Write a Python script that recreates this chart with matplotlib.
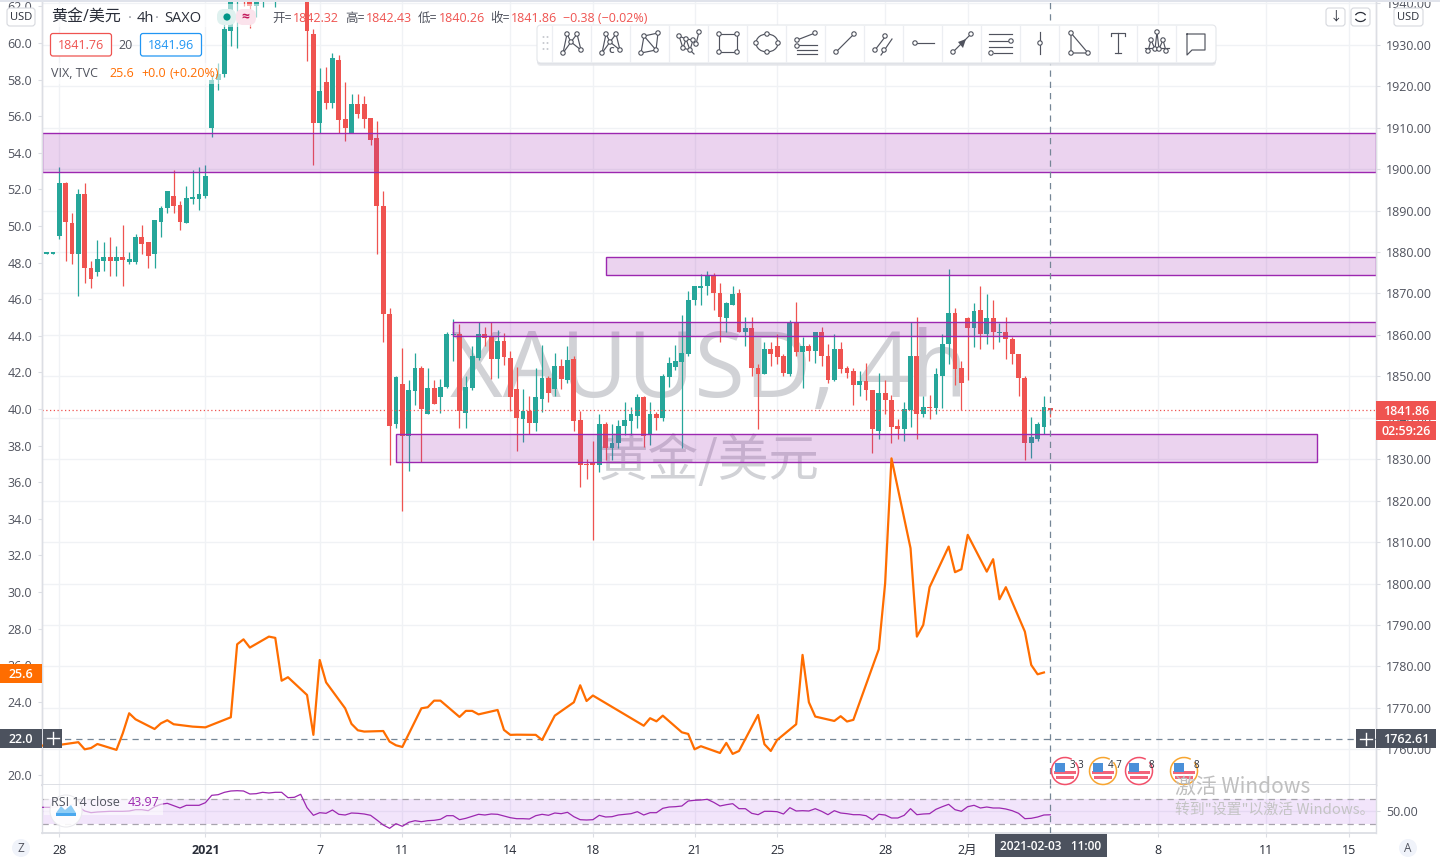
#!/usr/bin/env python3
''' XAUUSD 4h chart with VIX overlay and RSI pane, tradingview look '''
import numpy as np
import matplotlib
matplotlib.use('Agg')
import matplotlib.pyplot as plt
from matplotlib.patches import Rectangle, Circle, Ellipse, FancyBboxPatch, Polygon, Arc

plt.rcParams['font.family'] = ['Open Sans', 'Noto Sans CJK SC', 'DejaVu Sans']

# gold candles, bar numbers run from -2 to 156
opens = [1879.6, 1879.6,
    1883.8, 1896.7, 1887.1, 1879.4, 1893.9, 1876.2, 1875.1, 1877.9, 1878.9, 1877.8,
    1878.7, 1877.7, 1877.7, 1883.5, 1882.3, 1879.4, 1887.3, 1890.5, 1893.6, 1891.4,
    1887.1, 1892.9, 1892.9, 1893.6, 1910.0, 1921.6, 1923.0, 1933.4, 1945.0, 1950.0,
    1948.0, 1939.3, 1945.0, 1950.0, 1946.0, 1954.0, 1950.0, 1946.0, 1950.0, 1945.0,
    1932.5, 1911.2, 1920.9, 1916.0, 1926.4, 1912.2, 1908.8, 1915.8, 1915.8, 1912.4,
    1907.6, 1891.2, 1865.1, 1838.6, 1848.2, 1835.5, 1846.5, 1852.1, 1841.0, 1847.3,
    1844.9, 1847.5, 1860.0, 1860.1, 1841.2, 1847.3, 1854.5, 1860.1, 1859.6, 1854.3,
    1858.6, 1854.5, 1847.0, 1839.8, 1841.7, 1838.8, 1844.6, 1849.7, 1847.0, 1852.6,
    1849.2, 1854.3, 1839.5, 1828.9, 1829.2, 1828.7, 1838.6, 1832.8, 1833.8, 1837.9,
    1839.3, 1840.5, 1844.9, 1835.9, 1841.0, 1840.0, 1849.9, 1852.3, 1853.5, 1855.5,
    1868.3, 1871.4, 1871.7, 1874.1, 1870.2, 1864.0, 1867.3, 1870.0, 1860.8, 1861.6,
    1852.1, 1850.5, 1856.5, 1857.2, 1854.8, 1850.5, 1863.2, 1855.8, 1857.2, 1856.0,
    1860.8, 1854.8, 1849.2, 1856.5, 1851.9, 1851.2, 1847.8, 1848.8, 1846.8, 1836.7,
    1845.9, 1844.4, 1837.9, 1837.2, 1841.8, 1855.0, 1840.8, 1842.7, 1842.3, 1850.2,
    1857.7, 1865.4, 1851.9, 1864.0, 1861.6, 1865.9, 1860.1, 1864.0, 1860.4, 1860.8,
    1859.1, 1855.5, 1849.5, 1834.0, 1835.0, 1837.7, 1842.32]
highs = [1879.9, 1879.9,
    1900.4, 1897.0, 1889.4, 1895.3, 1896.7, 1877.9, 1883.0, 1882.3, 1883.7, 1881.5,
    1886.6, 1880.1, 1884.4, 1886.4, 1882.5, 1887.8, 1891.2, 1894.8, 1899.9, 1892.4,
    1896.0, 1899.9, 1900.4, 1900.9, 1922.6, 1925.7, 1935.3, 1945.0, 1950.0, 1952.0,
    1950.0, 1950.0, 1950.0, 1955.0, 1958.0, 1958.0, 1955.0, 1952.0, 1953.0, 1948.0,
    1933.8, 1924.5, 1924.7, 1927.9, 1927.6, 1921.1, 1918.2, 1918.2, 1917.7, 1912.4,
    1911.7, 1894.6, 1866.6, 1850.2, 1856.9, 1849.2, 1855.7, 1852.6, 1851.9, 1849.2,
    1849.4, 1860.8, 1863.9, 1862.7, 1850.2, 1857.4, 1863.0, 1862.0, 1863.0, 1861.3,
    1860.5, 1856.0, 1852.3, 1847.0, 1845.3, 1852.1, 1857.6, 1850.2, 1855.7, 1854.3,
    1857.2, 1855.0, 1841.7, 1830.1, 1834.5, 1841.0, 1839.1, 1838.6, 1839.5, 1843.9,
    1842.7, 1845.8, 1845.3, 1843.7, 1841.5, 1850.6, 1854.7, 1857.6, 1864.9, 1870.5,
    1871.9, 1874.6, 1875.3, 1875.0, 1872.6, 1868.0, 1871.7, 1871.0, 1864.4, 1864.2,
    1852.9, 1858.4, 1858.2, 1860.1, 1855.3, 1863.7, 1868.0, 1859.4, 1857.9, 1860.8,
    1862.0, 1857.7, 1860.3, 1858.2, 1852.4, 1851.9, 1851.4, 1853.3, 1846.8, 1850.9,
    1849.2, 1845.4, 1839.6, 1843.7, 1863.0, 1864.2, 1845.2, 1845.6, 1851.9, 1860.3,
    1875.8, 1866.4, 1853.8, 1864.4, 1867.6, 1871.9, 1869.8, 1868.3, 1862.8, 1864.2,
    1859.6, 1855.5, 1850.2, 1840.1, 1839.1, 1845.2, 1842.43]
lows = [1879.5, 1879.5,
    1883.1, 1877.8, 1877.0, 1869.3, 1872.6, 1871.3, 1874.2, 1875.3, 1874.3, 1874.3,
    1871.9, 1877.0, 1877.2, 1879.6, 1876.2, 1876.2, 1883.5, 1889.5, 1889.5, 1885.4,
    1887.1, 1891.7, 1890.2, 1893.1, 1907.8, 1919.0, 1922.3, 1929.8, 1929.3, 1939.3,
    1934.1, 1936.6, 1939.0, 1945.0, 1939.0, 1946.0, 1944.0, 1943.0, 1942.0, 1926.2,
    1900.9, 1908.6, 1914.6, 1914.8, 1908.8, 1906.9, 1908.8, 1912.4, 1909.8, 1905.9,
    1879.6, 1858.2, 1828.5, 1837.6, 1817.4, 1827.2, 1843.2, 1829.3, 1841.0, 1843.4,
    1841.2, 1847.3, 1853.8, 1837.6, 1837.6, 1846.8, 1854.0, 1857.2, 1849.4, 1849.7,
    1852.8, 1841.7, 1832.1, 1834.2, 1836.2, 1836.7, 1841.5, 1843.9, 1845.3, 1847.0,
    1848.5, 1836.7, 1823.4, 1825.3, 1810.4, 1826.8, 1829.9, 1829.7, 1832.8, 1835.9,
    1835.9, 1837.6, 1833.0, 1833.5, 1837.1, 1839.3, 1847.5, 1851.6, 1832.6, 1854.9,
    1867.1, 1867.1, 1869.7, 1866.1, 1858.4, 1860.8, 1867.1, 1860.6, 1857.2, 1850.2,
    1837.4, 1850.5, 1852.6, 1852.9, 1850.2, 1850.0, 1855.0, 1847.1, 1853.6, 1853.3,
    1852.6, 1848.5, 1848.8, 1850.9, 1849.5, 1843.2, 1845.2, 1844.4, 1831.6, 1834.8,
    1841.0, 1834.0, 1835.0, 1834.3, 1837.7, 1835.0, 1840.3, 1839.6, 1841.0, 1842.3,
    1852.9, 1848.0, 1841.8, 1849.2, 1857.0, 1856.5, 1857.9, 1856.7, 1858.2, 1854.3,
    1852.9, 1845.2, 1829.7, 1830.4, 1834.5, 1836.2, 1840.26]
closes = [1879.7, 1879.7,
    1896.7, 1887.2, 1879.4, 1893.9, 1876.1, 1873.6, 1878.2, 1878.9, 1877.8, 1878.7,
    1878.0, 1878.4, 1883.5, 1882.0, 1879.1, 1887.6, 1890.7, 1894.6, 1891.2, 1887.3,
    1893.1, 1893.1, 1893.9, 1898.4, 1921.6, 1923.0, 1933.7, 1942.5, 1948.0, 1946.0,
    1939.3, 1944.0, 1948.0, 1952.0, 1954.0, 1948.0, 1946.0, 1950.0, 1944.0, 1933.3,
    1911.2, 1918.9, 1916.0, 1926.7, 1911.9, 1910.0, 1915.6, 1913.4, 1912.2, 1907.1,
    1891.0, 1865.0, 1838.1, 1849.9, 1835.5, 1846.8, 1852.1, 1842.2, 1847.3, 1843.4,
    1847.5, 1860.1, 1860.1, 1841.7, 1847.5, 1855.0, 1860.1, 1859.3, 1854.3, 1858.6,
    1854.7, 1845.1, 1840.0, 1841.7, 1838.8, 1845.1, 1849.7, 1846.1, 1852.6, 1849.4,
    1854.0, 1839.3, 1828.5, 1828.5, 1828.7, 1838.6, 1832.8, 1834.0, 1837.9, 1839.5,
    1841.0, 1844.9, 1835.7, 1841.0, 1840.0, 1850.2, 1853.1, 1853.8, 1855.7, 1868.5,
    1871.7, 1871.9, 1874.3, 1870.2, 1864.2, 1867.8, 1869.8, 1860.8, 1861.6, 1851.9,
    1850.5, 1856.5, 1855.5, 1854.6, 1850.7, 1863.2, 1855.8, 1857.2, 1856.0, 1860.8,
    1855.0, 1849.2, 1856.7, 1851.7, 1850.7, 1847.8, 1848.8, 1846.6, 1837.2, 1845.9,
    1844.2, 1837.7, 1837.2, 1842.0, 1855.0, 1840.8, 1842.7, 1842.3, 1850.5, 1857.7,
    1865.2, 1851.7, 1848.3, 1861.6, 1865.7, 1860.1, 1864.0, 1860.6, 1860.8, 1858.9,
    1855.3, 1849.5, 1834.0, 1835.3, 1838.4, 1842.5, 1841.86]

# VIX line, only drawn on the bars it has a value for
vix_bars = [-3, 0, 3, 4, 5, 6, 9, 10, 11, 12, 15, 16, 17, 18, 21, 23, 27, 28, 29, 30, 33,
    34, 35, 36, 39, 40, 41, 42, 45, 46, 47, 48, 51, 52, 53, 54, 57, 58, 59, 60, 63, 64,
    65, 66, 69, 70, 71, 72, 75, 76, 78, 81, 82, 83, 84, 92, 93, 94, 95, 98, 99, 100,
    101, 104, 105, 106, 107, 110, 111, 112, 113, 116, 117, 118, 119, 122, 123, 124,
    125, 129, 130, 131, 134, 135, 136, 137, 140, 141, 142, 143, 146, 147, 148, 149,
    152, 153, 154, 155]
vix_vals = [21.6, 21.64, 21.79, 21.40, 21.47, 21.69, 21.37, 22.28, 23.37, 23.04, 22.51,
    22.82, 22.99, 22.77, 22.64, 22.60, 23.15, 27.14, 27.41, 26.96, 27.56, 27.49, 25.15,
    25.34, 24.37, 22.19, 26.28, 25.06, 23.64, 22.79, 22.44, 22.37, 22.40, 21.82, 21.62,
    21.53, 23.64, 23.70, 24.06, 24.06, 23.17, 23.50, 23.50, 23.31, 23.55, 22.46, 22.19,
    22.20, 22.19, 21.91, 23.24, 23.97, 24.90, 24.04, 24.34, 22.69, 23.10, 22.93, 23.24,
    22.33, 22.24, 21.40, 21.57, 21.20, 21.75, 21.15, 21.31, 23.28, 21.68, 21.31, 21.91,
    22.77, 26.56, 23.97, 23.19, 22.95, 23.21, 22.92, 23.01, 26.87, 30.47, 37.30, 32.39,
    27.56, 28.20, 30.26, 32.48, 31.08, 31.24, 33.12, 31.11, 31.79, 29.60, 30.26, 27.83,
    26.01, 25.50, 25.6]

# RSI 14, one value per bar from -3 to 156
rsi_vals = [55.9, 55.9, 55.9, 56.9, 58.5, 60.7, 56.9, 50.0, 47.3, 48.4, 48.9, 49.5, 49.5,
    49.5, 50.0, 52.1, 52.1, 50.5, 56.9, 60.7, 62.3, 58.5, 54.8, 59.1, 59.1, 59.1, 63.3,
    75.1, 76.1, 79.9, 82.0, 82.5, 82.0, 77.2, 77.7, 79.9, 78.8, 79.9, 79.9, 71.3, 71.9,
    76.7, 55.3, 43.1, 47.3, 46.3, 51.6, 44.7, 43.6, 46.8, 46.3, 45.2, 43.1, 35.6, 27.6,
    22.3, 29.7, 25.5, 31.9, 34.5, 32.9, 34.5, 35.1, 36.7, 42.5, 42.5, 36.1, 38.3, 41.5,
    44.7, 43.6, 45.2, 44.7, 42.0, 39.3, 37.7, 37.7, 37.2, 42.5, 44.7, 43.1, 46.8, 45.7,
    47.9, 40.9, 36.1, 35.6, 36.1, 43.1, 40.4, 40.9, 43.6, 44.7, 45.7, 48.9, 43.6, 47.3,
    47.3, 54.3, 56.4, 56.9, 58.0, 66.0, 67.1, 67.6, 68.7, 63.9, 58.0, 60.1, 61.7, 53.7,
    53.7, 46.3, 44.1, 49.5, 49.5, 48.9, 45.2, 55.3, 50.0, 50.5, 50.0, 53.7, 49.5, 44.1,
    50.5, 46.8, 45.7, 44.1, 44.1, 42.5, 36.1, 44.7, 43.6, 38.8, 38.8, 43.1, 53.7, 44.1,
    45.2, 45.7, 52.7, 56.9, 60.7, 52.1, 49.5, 56.9, 59.1, 54.8, 56.4, 54.8, 54.8, 53.2,
    50.5, 46.3, 37.7, 38.3, 40.4, 43.6, 43.97]

# zones as (first bar, last bar, low price, high price)
zone_left = [-2.72, 86.05, 62.0, 53.0]
zone_right = [207.27, 207.27, 207.27, 197.97]
zone_low = [1899.4, 1874.5, 1859.8, 1829.4]
zone_high = [1908.6, 1878.9, 1863.2, 1836.0]

time_ticks = [0, 23, 41, 54, 71, 84, 100, 113, 130, 143, 173, 190, 203]
time_labels = ['28', '2021', '7', '11', '14', '18', '21', '25', '28', '2月', '8', '11', '15']

last_price = 1841.86
cross_price = 1762.61
cross_vix = 22.0
cross_bar = 156

UP = '#26a69a'
DOWN = '#ef5350'
PURPLE = '#9c27b0'
ORANGE = '#ff6d00'
GRID = '#f0f2f5'
LINE = '#dcdee4'
TEXT = '#50535e'
DARK = '#4c525e'
CROSS = '#758696'
W, H = 1440, 857

fig = plt.figure(figsize=(W / 100, H / 100), dpi=100, facecolor='white')
ax = fig.add_axes([42 / W, (H - 785) / H, 1334 / W, 785 / H])
ax_vix = ax.twinx()
ax_rsi = fig.add_axes([42 / W, (H - 833) / H, 1334 / W, 48 / H], sharex=ax)
ax_vix.patch.set_visible(False)

ax.set_xlim(-2.72, 207.27)
ax.set_ylim(1751.4, 1940.8)
ax_vix.set_ylim(19.45, 62.35)
ax_rsi.set_ylim(14.8, 91.6)

bars = np.arange(-2, 157)
opens, highs, lows, closes = map(np.array, (opens, highs, lows, closes))
colors = np.where(closes >= opens, UP, DOWN)

ax.text(0.5, 0.4943, 'XAUUSD, 4h', transform=ax.transAxes, ha='center', va='baseline',
        fontsize=66, color='#d1d2d6', zorder=1)
ax.text(0.4991, 0.4125, '黄金/美元', transform=ax.transAxes, ha='center', va='center',
        fontsize=36.4, color='#d1d2d6', family=['Noto Sans CJK SC'], zorder=1)

ax.vlines(bars, lows, highs, colors=colors, lw=0.9, zorder=3)
body_low = np.minimum(opens, closes)
body_size = np.maximum(np.abs(closes - opens), 0.3)
ax.bar(bars, body_size, bottom=body_low, width=0.76, color=colors, lw=0, zorder=3)

for left, right, low, high in zip(zone_left, zone_right, zone_low, zone_high):
    ax.add_patch(Rectangle((left, low), right - left, high - low, fc=(0.612, 0.153, 0.69, 0.2),
                           ec=PURPLE, lw=1.0, zorder=4))

ax.axhline(last_price, color=DOWN, lw=0.9, ls=(0, (1, 2)), zorder=5)
ax.axhline(cross_price, color=CROSS, lw=0.9, ls=(0, (5, 4)), zorder=5)
ax.axvline(cross_bar, color=CROSS, lw=0.9, ls=(0, (5, 4)), zorder=5)

ax_vix.plot(vix_bars, vix_vals, color=ORANGE, lw=1.6, zorder=6)

# rsi pane
ax_rsi.axhspan(30, 70, color=(0.53, 0.02, 0.88), alpha=0.1, lw=0)
ax_rsi.axhline(70, color='#a8a4ae', lw=0.9, ls=(0, (5, 4)))
ax_rsi.axhline(30, color='#a8a4ae', lw=0.9, ls=(0, (5, 4)))
ax_rsi.plot(np.arange(-3, 157), rsi_vals, color=PURPLE, lw=0.9, zorder=4)
ax_rsi.axvline(cross_bar, color=CROSS, lw=0.9, ls=(0, (5, 4)), zorder=5)

# scales
ax.yaxis.tick_right()
ax.set_yticks(np.arange(1760, 1941, 10))
ax.set_yticklabels(['%.2f' % v for v in np.arange(1760, 1941, 10)])
ax_vix.yaxis.tick_left()
ax_vix.set_yticks(np.arange(20, 63, 2))
ax_vix.set_yticklabels(['%.1f' % v for v in np.arange(20, 63, 2)])
ax_rsi.yaxis.tick_right()
ax_rsi.set_yticks([50])
ax_rsi.set_yticklabels(['50.00'])
ax_rsi.set_xticks(time_ticks)
ax_rsi.set_xticklabels(time_labels)
ax_rsi.get_xticklabels()[1].set_fontweight('bold')

ax.grid(True, color=GRID, lw=1.0)
ax_rsi.grid(True, color=GRID, lw=1.0)
ax.set_axisbelow(True)
ax_rsi.set_axisbelow(True)
ax.tick_params(axis='x', length=0, labelbottom=False)
ax_vix.tick_params(axis='x', length=0, labelbottom=False)
for a in (ax, ax_vix, ax_rsi):
    a.tick_params(axis='y', length=3, width=0.8, color=LINE, labelsize=9, labelcolor=TEXT, pad=4)
    for name, spine in a.spines.items():
        spine.set_color(LINE)
        spine.set_linewidth(1.0)
    a.spines['top'].set_visible(a is ax_rsi)
ax.spines['bottom'].set_linewidth(1.3)
ax_rsi.spines['top'].set_visible(False)
ax_rsi.spines['bottom'].set_linewidth(1.3)
ax_rsi.tick_params(axis='x', length=3, width=0.8, color=LINE, labelsize=9, labelcolor='#2a2e39', pad=5)

# everything around the chart goes on a pixel sized layer
over = fig.add_axes([0, 0, 1, 1], zorder=20)
over.set_xlim(0, W)
over.set_ylim(H, 0)
over.axis('off')


def price_y(value):
    return H - ax.transData.transform((0, value))[1]


def vix_y(value):
    return H - ax_vix.transData.transform((0, value))[1]


def bar_x(bar):
    return ax.transData.transform((bar, 0))[0]


def put(x, y, s, color=TEXT, size=9, ha='left', **kw):
    return over.text(x, y, s, color=color, fontsize=size, ha=ha, va='center', **kw)


def box(x0, y0, x1, y1, fc, ec='none', lw=1.0, pad=0.0, alpha=None):
    if pad:
        p = FancyBboxPatch((x0 + pad, y0 + pad), x1 - x0 - 2 * pad, y1 - y0 - 2 * pad,
                           boxstyle='round,pad=%g' % pad, fc=fc, ec=ec, lw=lw, alpha=alpha)
    else:
        p = Rectangle((x0, y0), x1 - x0, y1 - y0, fc=fc, ec=ec, lw=lw, alpha=alpha)
    over.add_patch(p)


def plus(x, y):
    over.plot([x - 6, x + 6], [y, y], color='white', lw=1.0)
    over.plot([x, x], [y - 6, y + 6], color='white', lw=1.0)


box(0, 0, W, 2, '#e0e3eb')

# price tags on the scales
y = price_y(last_price)
box(1376, y - 9.5, 1436, y + 9.5, DOWN)
put(1406, y + 1, '1841.86', 'white', ha='center', fontweight='semibold')
box(1376, y + 11, 1436, y + 30, DOWN)
put(1406, y + 21, '02:59:26', 'white', ha='center', fontweight='semibold')

y = price_y(cross_price)
box(1376, y - 9.5, 1436, y + 9.5, DARK)
put(1406, y + 1, '1762.61', 'white', ha='center', fontweight='semibold')
box(1356, y - 9.5, 1375, y + 9.5, DARK)
plus(1365.5, y)

y = vix_y(25.6) + 1
box(0, y - 9.5, 42, y + 9.5, ORANGE)
put(21, y + 1, '25.6', 'white', ha='center', fontweight='semibold')
y = vix_y(cross_vix)
box(0, y - 9.5, 42, y + 9.5, DARK)
put(21, y + 1, '22.0', 'white', ha='center', fontweight='semibold')
box(43, y - 9.5, 62, y + 9.5, DARK)
plus(52.5, y)

x = bar_x(cross_bar)
box(x - 55, 834, x + 57, H, DARK)
put(x, 846, '2021-02-03   11:00', 'white', 8.6, ha='center', fontweight='semibold')

# header
box(46, 4, 262, 27, 'white', alpha=0.55)
put(51, 18, '黄金/美元', '#2a2e39', 11.5)
put(128, 18, '·', '#9598a1', 10.5)
put(137, 18, '4h', '#2a2e39', 10.5)
put(155, 18, '·', '#9598a1', 10.5)
put(164, 18, 'SAXO', '#2a2e39', 10.5)
box(217, 9, 236, 25, '#dff1ef', pad=7)
over.add_patch(Circle((227, 17), 3.6, fc='#009688', ec='none'))
box(236, 9, 256, 25, '#fbe3ec', pad=7)
put(245.5, 16, '≈', '#c2185b', 10, ha='center', fontweight='bold')
for px, label, px2, value in zip([272, 345, 418, 490], ['开=', '高=', '低=', '收='],
                                 [293, 366, 439, 511], ['1842.32', '1842.43', '1840.26', '1841.86']):
    put(px, 18, label, TEXT)
    put(px2, 18, value, DOWN)
put(563, 18, '−0.38 (−0.02%)', DOWN)

box(50.5, 33.5, 111.5, 56, 'white', DOWN, 0.9, pad=2.5)
put(81, 45, '1841.76', DOWN, ha='center')
put(126, 45, '20', TEXT, ha='center')
box(140.5, 33.5, 201.5, 56, 'white', '#2196f3', 0.9, pad=2.5)
put(171, 45, '1841.96', '#2196f3', ha='center')

box(48, 63, 222, 84, 'white', alpha=0.55)
put(51, 73, 'VIX, TVC', TEXT)
put(109, 73, '25.6', ORANGE)
put(141, 73, '+0.0', ORANGE)
put(170, 73, '(+0.20%)', ORANGE)

box(7, 8, 35, 26, 'white', '#d6d8de', 0.8, pad=3)
put(21, 17, 'USD', '#2a2e39', 8, ha='center')
box(1394, 8, 1423, 26, 'white', '#d6d8de', 0.8, pad=3)
put(1408.5, 17, 'USD', '#2a2e39', 8, ha='center')
box(1326, 8, 1345, 26, 'white', '#d6d8de', 0.8, pad=3)
put(1335.5, 17, '↓', '#2a2e39', 9, ha='center')
box(1351, 8, 1370, 26, 'white', '#d6d8de', 0.8, pad=3)
over.add_patch(Arc((1360.5, 17), 11, 9, theta1=20, theta2=160, ec='#2a2e39', lw=0.9))
over.add_patch(Arc((1360.5, 17), 11, 9, theta1=200, theta2=340, ec='#2a2e39', lw=0.9))

for cx, letter in ((21, 'Z'), (1408, 'A')):
    over.add_patch(Circle((cx, 848), 9, fc='#f0f3fa', ec='none'))
    put(cx, 848, letter, TEXT, 8.5, ha='center')

# rsi legend and logo
box(44, 796, 163, 815, 'white', alpha=0.6)
over.add_patch(Circle((66, 811), 16, fc='white', ec='#e8e8ec', lw=0.8, alpha=0.9))
over.add_patch(Polygon([(56, 813), (61, 806), (65, 810), (71, 805), (76, 813)], fc='#8fcdf5', ec='none'))
over.add_patch(Rectangle((56, 813), 20, 2.5, fc='#4aa8ee', ec='none'))
put(51, 803, 'RSI 14 close', TEXT)
put(128, 803, '43.97', PURPLE)

# event flags
flag_x = [1065, 1103, 1139, 1184]
flag_ring = ['#f2506a', '#f7a530', '#f2506a', '#f7a530']
flag_text = ['3 3', '4 7', '8', '8']
for fx, ring, label in zip(flag_x, flag_ring, flag_text):
    over.add_patch(Circle((fx, 771), 10, fc='white', ec='none'))
    over.add_patch(Arc((fx, 771), 27, 27, theta1=-40, theta2=300, ec=ring, lw=1.1))
    stripe = Rectangle((fx - 11, 771), 22, 3, fc='#f2647a', ec='none')
    stripe2 = Rectangle((fx - 9, 776), 18, 2.5, fc='#f2647a', ec='none')
    over.add_patch(stripe)
    over.add_patch(stripe2)
    over.add_patch(Rectangle((fx - 10, 763), 10, 9, fc='#4a90d9', ec='none'))
    put(fx + 12, 765, label, '#2a2e39', 7, ha='center')

# windows watermark
put(1175, 787, '激活 Windows', '#bfbfbf', 15, family=['Noto Sans CJK SC', 'DejaVu Sans'])
put(1175, 810, '转到"设置"以激活 Windows。', '#c4c4c4', 10.7, family=['Noto Sans CJK SC', 'DejaVu Sans'])

# drawing toolbar
for dy, col in ((3, '#e4e6ea'), (1.5, '#d8dae0')):
    box(537, 25 + dy, 1216, 63 + dy, col, pad=4, alpha=0.7)
box(537, 25, 1216, 63, 'white', '#e4e6ea', 0.8, pad=4)
for i in range(17):
    over.plot([552 + 39 * i] * 2, [26, 62], color='#eceef2', lw=0.9)
for hx in (543.5, 547.5):
    for hy in (37, 43, 49):
        over.add_patch(Circle((hx, hy), 1.0, fc='#c8cad0', ec='none'))

ICON = '#50535e'
CY = 43


def icon(cx, lines=(), nodes=()):
    for pts in lines:
        over.plot([cx + p[0] for p in pts], [CY + p[1] for p in pts], color=ICON, lw=0.85)
    for p in nodes:
        over.add_patch(Circle((cx + p[0], CY + p[1]), 2.2, fc='white', ec=ICON, lw=0.8, zorder=5))


wave = [(-9, 10), (-5, -9), (-1, -1), (5, -9), (9, 7)]
icon(572, [wave, [(-9, 10), (-1, -1), (9, 7)]], wave)
icon(611, [wave, [(-9, 10), (-1, -1), (9, 7)]], wave)
put(611, 50, 'C', ICON, 6.5, ha='center', fontweight='bold')
quad = [(-9, 10), (-6, -7), (8, -10), (6, 7)]
icon(650, [quad + [quad[0]], [quad[1], quad[3]]], quad)
dense = [(-10, -7), (-6, 5), (-3, -4), (1, 7), (4, -3), (7, 1), (10, -11)]
icon(689, [dense, [(-10, -7), (-3, -4), (4, -3)], [(-6, 5), (1, 7), (5, 11)]], dense)
corners = [(-9, -9), (9, -9), (9, 9), (-9, 9)]
icon(728, [corners + [corners[0]]], corners)
over.add_patch(Ellipse((767, CY), 22, 18, fc='none', ec=ICON, lw=0.85))
icon(767, [], [(-11, 0), (11, 0), (0, -9), (0, 9)])
icon(806, [[(-9, -3), (9, -10)], [(-9, 2), (11, 2)], [(-9, 7), (11, 7)], [(-9, 11), (11, 11)]], [(-9, -3), (9, -10), (-9, 3)])
icon(845, [[(-9, 9), (9, -9)]], [(-9, 9), (9, -9)])
icon(884, [[(-9, 7), (1, -6)], [(-3, 12), (8, -4)]], [(-9, 7), (1, -7), (0, 7)])
icon(923, [[(-8, 0), (11, 0)]], [(-8, 0)])
icon(962, [[(-9, 9), (9, -9)]], [(-9, 9), (9, -9)])
over.add_patch(Polygon([(966, 39), (958, 42), (963, 48)], fc=ICON, ec='none'))
icon(1001, [[(-12, -9), (11, -9)], [(-12, -2), (7, -2)], [(-12, 4), (11, 4)], [(-7, 10), (11, 10)]], [(10, -2), (-10, 10)])
icon(1040, [[(0, -11), (0, 11)]], [(0, 0)])
icon(1079, [[(-8, -10), (-8, 10), (9, 10), (-8, -10)]], [(-8, -10), (-8, 10), (9, 10)])
icon(1118, [[(-7, -7), (-7, -10), (7, -10), (7, -7)], [(0, -10), (0, 10)], [(-3, 10), (3, 10)]])
peaks = [(-9, 8), (-6, -3), (-2, 6), (0, -11), (2, 6), (6, -3), (9, 8)]
icon(1157, [peaks, [(-12, 5), (12, 5)]], peaks)
icon(1196, [[(-9, -9), (9, -9), (9, 7), (-4, 7), (-9, 12), (-9, -9)]])

fig.savefig('out.png', dpi=100, facecolor='white')
